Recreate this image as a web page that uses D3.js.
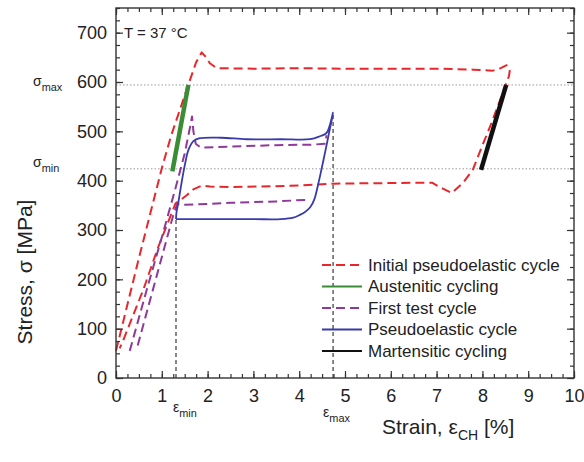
<!DOCTYPE html>
<html>
<head>
<meta charset="utf-8">
<script src="https://cdn.jsdelivr.net/npm/d3@7"></script>
<style>
body { margin: 0; background: #fff; }
text { font-family: "Liberation Sans", Arial, sans-serif; fill: #222; }
</style>
</head>
<body>
<div id="chart"></div>
<script>
const width = 584,
height = 462,
margin = { top: 8, right: 10, bottom: 84, left: 116 };

// Initial pseudoelastic cycle (strain in %, stress in MPa)
const initialStrain = [0.0, 0.5, 1.0, 1.2, 1.4, 1.6, 1.75, 1.87, 1.95, 2.05, 2.2, 3.0, 4.0, 5.0, 6.0, 7.0, 7.8, 8.23, 8.4, 8.53, 8.6, 8.58, 8.2, 7.98, 7.79, 7.58, 7.33, 7.07, 6.9, 5.8, 4.75, 4.0, 2.56, 2.05, 1.87, 1.7, 1.55, 1.43, 1.3, 0.92, 0.6, 0.16, 0.08];
const initialStress = [55, 243, 425, 490, 545, 600, 640, 660, 652, 638, 628, 627, 628, 627, 627, 627, 625, 623, 628, 634, 625, 612, 517, 467, 422, 396, 375, 387, 396, 395, 394, 390, 387, 388, 390, 383, 371, 362, 354, 265, 180, 77, 60];

// First test cycle (NaN = gap in the record)
const firstStrain = [0.3, 0.65, 1.0, 1.3, 1.5, 1.62, 1.66, 1.69, 1.74, 1.85, 2.5, 3.5, 4.3, 4.56, 4.6, NaN, 4.13, 3.5, 2.5, 1.8, 1.47, 1.34, 1.25, 0.45];
const firstStress = [55, 172, 285, 385, 455, 510, 530, 500, 475, 467, 469, 472, 473, 475, 492, NaN, 361, 358, 355, 352, 351, 353, 330, 58];

// Pseudoelastic cycle
const pseudoStrain = [1.31, 1.32, 1.36, 1.43, 1.51, 1.58, 1.69, 1.83, 2.3, 2.85, 3.6, 4.24, 4.45, 4.6, 4.74, 4.67, 4.53, 4.42, 4.33, 4.24, 4.12, 4.0, 3.87, 3.6, 3.0, 2.0, 1.31];
const pseudoStress = [322, 335, 355, 395, 435, 462, 480, 486, 487, 484, 484, 484, 490, 497, 538, 505, 442, 395, 362, 346, 336, 330, 325, 322, 322, 322, 322];

// Austenitic and martensitic cycling
const austStrain = [1.23, 1.58];
const austStress = [419, 594];
const martStrain = [7.97, 8.52];
const martStress = [422, 594];

// reference levels
const sigmaMax = 594, sigmaMin = 424;
const epsMin = 1.31, epsMax = 4.74;
const epsMinTop = 322, epsMaxTop = 538;

const xTickValues = [0, 1, 2, 3, 4, 5, 6, 7, 8, 9, 10];
const yTickValues = [0, 100, 200, 300, 400, 500, 600, 700];

const legendLabels = ["Initial pseudoelastic cycle", "Austenitic cycling", "First test cycle", "Pseudoelastic cycle", "Martensitic cycling"];

const red = "#e8262b", green = "#3a8c35", purple = "#8e3a98", blue = "#3a3aac", black = "#111";

const svg = d3.select("#chart").
append("svg").
attr("width", width).
attr("height", height).
style("background-color", "white");

const x = d3.scaleLinear().domain([0, 10]).range([margin.left, width - margin.right]);
const y = d3.scaleLinear().domain([0, 750]).range([height - margin.bottom, margin.top]);

const zip = (xs, ys) => xs.map((v, i) => ({ x: v, y: ys[i] }));

const line = d3.line().
defined(d => !isNaN(d.x)).
x(d => x(d.x)).
y(d => y(d.y));

// dotted stress levels
svg.selectAll(".level").
data([sigmaMax, sigmaMin]).
enter().
append("line").
attr("x1", x(0)).
attr("x2", x(10)).
attr("y1", d => y(d)).
attr("y2", d => y(d)).
attr("stroke", "#999").
attr("stroke-width", 1).
attr("stroke-dasharray", "1.5,2");

// dashed strain limits
svg.selectAll(".limit").
data([[epsMin, epsMinTop], [epsMax, epsMaxTop]]).
enter().
append("line").
attr("x1", d => x(d[0])).
attr("x2", d => x(d[0])).
attr("y1", y(0)).
attr("y2", d => y(d[1])).
attr("stroke", "#555").
attr("stroke-width", 1.4).
attr("stroke-dasharray", "4,3");

const series = [
{ data: zip(initialStrain, initialStress), color: red, width: 2, dash: "9,5", curve: d3.curveLinear },
{ data: zip(firstStrain, firstStress), color: purple, width: 2, dash: "9,5", curve: d3.curveLinear },
{ data: zip(pseudoStrain, pseudoStress), color: blue, width: 1.8, dash: null, curve: d3.curveCatmullRom.alpha(0.5) },
{ data: zip(austStrain, austStress), color: green, width: 4.5, dash: null, curve: d3.curveLinear },
{ data: zip(martStrain, martStress), color: black, width: 4.5, dash: null, curve: d3.curveLinear }];

svg.selectAll(".curve").
data(series).
enter().
append("path").
attr("class", "curve").
attr("fill", "none").
attr("stroke", d => d.color).
attr("stroke-width", d => d.width).
attr("stroke-dasharray", d => d.dash).
attr("stroke-linejoin", "round").
attr("d", d => line.curve(d.curve)(d.data));

// axes with inward ticks on all four sides
const minorX = d3.range(0, 10.001, 0.25),
minorY = d3.range(0, 750.1, 25);

const addAxis = (axis, transform, values, size, labels, pad) => {
  const g = svg.append("g").
  attr("transform", transform).
  call(axis.tickValues(values).tickSize(size).tickPadding(pad).tickFormat(labels ? d3.format("d") : ""));
  g.select(".domain").remove();
  g.selectAll(".tick line").attr("stroke", "#333").attr("stroke-width", 1.2);
  g.selectAll(".tick text").style("font-size", "18px").attr("fill", "#222");
  return g;
};

addAxis(d3.axisBottom(x), `translate(0,${y(0)})`, minorX, -4, false, 0);
addAxis(d3.axisBottom(x), `translate(0,${y(0)})`, xTickValues, -7, true, 11);
addAxis(d3.axisTop(x), `translate(0,${y(750)})`, minorX, -4, false, 0);
addAxis(d3.axisTop(x), `translate(0,${y(750)})`, xTickValues, -7, false, 0);
addAxis(d3.axisLeft(y), `translate(${x(0)},0)`, minorY, -4, false, 0);
addAxis(d3.axisLeft(y), `translate(${x(0)},0)`, yTickValues, -7, true, 9);
addAxis(d3.axisRight(y), `translate(${x(10)},0)`, minorY, -4, false, 0);
addAxis(d3.axisRight(y), `translate(${x(10)},0)`, yTickValues, -7, false, 0);

svg.append("rect").
attr("x", x(0)).
attr("y", y(750)).
attr("width", x(10) - x(0)).
attr("height", y(0) - y(750)).
attr("fill", "none").
attr("stroke", "#333").
attr("stroke-width", 1.4);

// annotations
svg.append("text").
attr("x", x(0) + 8).
attr("y", 38).
style("font-size", "15px").
text("T = 37 °C");

const subLabel = (px, py, main, sub, size) => {
  const t = svg.append("text").attr("x", px).attr("y", py).style("font-size", size + "px");
  t.append("tspan").text(main);
  t.append("tspan").attr("dy", 5).style("font-size", size * 0.78 + "px").text(sub);
};

subLabel(33, y(sigmaMax) + 1, "σ", "max", 14);
subLabel(33, y(sigmaMin) - 2, "σ", "min", 14);
subLabel(x(epsMin) - 3, 412, "ε", "min", 14);
subLabel(x(epsMax) - 10, 417, "ε", "max", 14);

const xt = svg.append("text").
attr("x", 382).
attr("y", 434).
style("font-size", "21px");
xt.append("tspan").text("Strain, ε");
xt.append("tspan").attr("dy", 6).style("font-size", "14px").text("CH");
xt.append("tspan").attr("dy", -6).text(" [%]");

svg.append("text").
attr("transform", `translate(32,272) rotate(-90)`).
attr("text-anchor", "middle").
style("font-size", "21px").
text("Stress, σ [MPa]");

// legend
const legend = svg.append("g").attr("transform", "translate(322,265)");
const legendRows = legend.selectAll("g").
data(legendLabels).
enter().
append("g").
attr("transform", (d, i) => `translate(0,${i * 21.5})`);

legendRows.append("line").
attr("x1", 0).
attr("x2", 40).
attr("stroke", (d, i) => series[[0, 3, 1, 2, 4][i]].color).
attr("stroke-width", 2).
attr("stroke-dasharray", (d, i) => i === 0 || i === 2 ? "9,5" : null);

legendRows.append("text").
attr("x", 46).
attr("dy", "0.35em").
style("font-size", "17px").
text(d => d);
</script>
</body>
</html>
